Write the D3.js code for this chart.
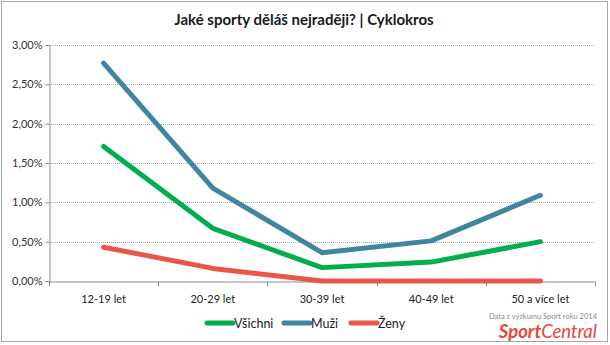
<!DOCTYPE html>
<html>
<head>
<meta charset="utf-8">
<script src="https://cdn.jsdelivr.net/npm/d3@7"></script>
<style>
  html, body { margin: 0; padding: 0; background: #ffffff; }
  svg { display: block; font-family: Lato, "Open Sans", sans-serif; }
</style>
</head>
<body>
<svg id="chart" width="610" height="345"></svg>
<script>
// Age groups on the category axis
const categories = ["12-19 let", "20-29 let", "30-39 let", "40-49 let", "50 a více let"];

// Share of respondents naming cyclocross as a favourite sport
const vsichni = [0.0171, 0.0067, 0.0017, 0.0024, 0.0050];
const muzi    = [0.0277, 0.0118, 0.0036, 0.0051, 0.0109];
const zeny    = [0.0043, 0.0016, 0.0000, 0.0000, 0.0000];

const seriesNames = ["Všichni", "Muži", "Ženy"];
const seriesColors = ["#00ae4d", "#3f86a1", "#e9574b"];
const yTicks = [0, 0.005, 0.01, 0.015, 0.02, 0.025, 0.03];

const series = [vsichni, muzi, zeny].map((values, i) => ({
  name: seriesNames[i], color: seriesColors[i], values
}));

const svg = d3.select("#chart");
const W = 610, H = 345;

// Outer frame
svg.append("rect")
  .attr("x", 1.5).attr("y", 1.5)
  .attr("width", W - 4).attr("height", H - 5)
  .attr("fill", "#fff").attr("stroke", "#a6a6a6");

const plot = { left: 49, right: 595, top: 45, bottom: 281 };

const x = d3.scaleBand().domain(categories).range([plot.left, plot.right]).padding(0);
const y = d3.scaleLinear().domain([0, 0.03]).range([plot.bottom, plot.top]);

const cz = d3.formatLocale({ decimal: ",", thousands: " ", grouping: [3], currency: ["", " Kč"] });
const pct = cz.format(".2%");

// Title
svg.append("text")
  .attr("x", 304).attr("y", 25)
  .attr("text-anchor", "middle")
  .attr("font-size", 15).attr("font-weight", 700)
  .attr("fill", "#1a1a1a")
  .text("Jaké sporty děláš nejraději? | Cyklokros");

// Horizontal gridlines
svg.append("g")
  .selectAll("line")
  .data(yTicks.filter(d => d > 0))
  .join("line")
  .attr("x1", plot.left).attr("x2", plot.right)
  .attr("y1", d => Math.round(y(d)) + 0.5).attr("y2", d => Math.round(y(d)) + 0.5)
  .attr("stroke", "#a8a8a8").attr("stroke-dasharray", "1,1");

// Y axis
const yAxis = svg.append("g")
  .attr("transform", `translate(${plot.left + 0.5},0)`)
  .call(d3.axisLeft(y).tickValues(yTicks).tickFormat(pct).tickSize(4).tickPadding(3));
yAxis.select(".domain").attr("stroke", "#8c8c8c");
yAxis.selectAll(".tick line").attr("stroke", "#8c8c8c");
yAxis.selectAll(".tick text")
  .attr("font-family", "Lato, sans-serif").attr("font-size", 11).attr("fill", "#333");

// X axis with labels centred in each band
const xAxis = svg.append("g")
  .attr("transform", `translate(0,${Math.round(y(0)) + 0.5})`)
  .call(d3.axisBottom(x).tickSize(0).tickPadding(14));
xAxis.select(".domain").attr("stroke", "#8c8c8c");
xAxis.selectAll(".tick text")
  .attr("font-family", "Lato, sans-serif").attr("font-size", 11).attr("fill", "#222");

// Category boundary tick marks
const bounds = [x(categories[0])].concat(categories.map(c => x(c) + x.bandwidth()));
xAxis.selectAll(".bound")
  .data(bounds)
  .join("line")
  .attr("class", "bound")
  .attr("x1", d => Math.round(d) + 0.5).attr("x2", d => Math.round(d) + 0.5)
  .attr("y1", 0).attr("y2", 5)
  .attr("stroke", "#8c8c8c");

// Series lines
const line = d3.line()
  .x((d, i) => x(categories[i]) + x.bandwidth() / 2)
  .y(d => y(d));

svg.append("g")
  .selectAll("path")
  .data(series)
  .join("path")
  .attr("d", s => line(s.values))
  .attr("fill", "none")
  .attr("stroke", s => s.color)
  .attr("stroke-width", 5)
  .attr("stroke-linecap", "round")
  .attr("stroke-linejoin", "round");

// Legend
const legendX = [207, 284, 351];
const leg = svg.append("g");
series.forEach((s, i) => {
  const g = leg.append("g").attr("transform", `translate(${legendX[i]},323)`);
  g.append("line")
    .attr("x1", 0).attr("x2", 26).attr("y1", 0).attr("y2", 0)
    .attr("stroke", s.color).attr("stroke-width", 5).attr("stroke-linecap", "round");
  g.append("text")
    .attr("x", 27).attr("y", 4.5)
    .attr("font-size", 12.5).attr("fill", "#222")
    .text(s.name);
});

// Source note and brand mark
svg.append("text")
  .attr("x", 597).attr("y", 319)
  .attr("text-anchor", "end")
  .attr("font-size", 7.5).attr("fill", "#8a8a8a")
  .text("Data z výzkumu Sport roku 2014");

const brand = svg.append("text")
  .attr("x", 597).attr("y", 338)
  .attr("text-anchor", "end")
  .attr("font-size", 18.5).attr("font-style", "italic")
  .attr("fill", "#e8473b");
brand.append("tspan").attr("font-weight", 700).text("Sport");
brand.append("tspan").attr("font-weight", 400).text("Central");
</script>
</body>
</html>
